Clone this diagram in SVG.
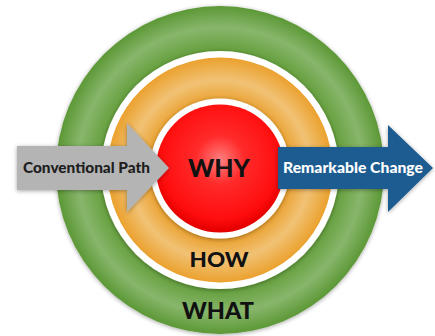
<svg xmlns="http://www.w3.org/2000/svg" width="435" height="336" viewBox="0 0 435 336">
  <defs>
    <radialGradient id="gGreen" gradientUnits="userSpaceOnUse" cx="220" cy="170" r="164">
      <stop offset="0.72" stop-color="#639e3b"/>
      <stop offset="0.87" stop-color="#88b66b"/>
      <stop offset="1" stop-color="#5c9836"/>
    </radialGradient>
    <radialGradient id="gOrange" gradientUnits="userSpaceOnUse" cx="220" cy="170" r="112.5">
      <stop offset="0.62" stop-color="#eba232"/>
      <stop offset="0.8" stop-color="#f1c275"/>
      <stop offset="1" stop-color="#eba12e"/>
    </radialGradient>
    <radialGradient id="gRed" gradientUnits="userSpaceOnUse" cx="220" cy="160" r="70">
      <stop offset="0" stop-color="#ff8080"/>
      <stop offset="0.35" stop-color="#ff2a2a"/>
      <stop offset="0.85" stop-color="#ff0d0d"/>
      <stop offset="1" stop-color="#e60000"/>
    </radialGradient>
    <filter id="shadow" x="-20%" y="-20%" width="140%" height="140%">
      <feDropShadow dx="0" dy="1" stdDeviation="2" flood-color="#000" flood-opacity="0.35"/>
    </filter>
  </defs>
  <style>
    .lbl { font-family: Lato, "Open Sans", "DejaVu Sans", sans-serif; font-weight: 900; }
    .ring { fill: #ffffff; filter: url(#shadow); }
  </style>
  <rect width="435" height="336" fill="#ffffff"/>
  <g id="what">
    <circle cx="220" cy="170" r="164" fill="url(#gGreen)" filter="url(#shadow)"/>
    <text class="lbl" x="218" y="319" font-size="23" text-anchor="middle" textLength="72" lengthAdjust="spacingAndGlyphs" fill="#111">WHAT</text>
  </g>
  <g id="how">
    <circle class="ring" cx="220" cy="170" r="119"/>
    <circle cx="220" cy="170" r="112.5" fill="url(#gOrange)"/>
    <text class="lbl" x="219" y="267" font-size="21.5" text-anchor="middle" textLength="59" lengthAdjust="spacingAndGlyphs" fill="#111">HOW</text>
  </g>
  <g id="why">
    <circle class="ring" cx="220" cy="168.5" r="70"/>
    <circle cx="220" cy="168.5" r="64" fill="url(#gRed)"/>
    <text class="lbl" x="219" y="177" font-size="24" text-anchor="middle" textLength="62" lengthAdjust="spacingAndGlyphs" fill="#111">WHY</text>
  </g>
  <g id="conventional-path">
    <polygon points="17,146 127,146 127,123 169,168 127,212 127,190 17,190" fill="#b4b4b4" filter="url(#shadow)"/>
    <text class="lbl" x="86.5" y="173" font-size="14.5" text-anchor="middle" textLength="127" lengthAdjust="spacingAndGlyphs" fill="#1e1e1e">Conventional Path</text>
  </g>
  <g id="remarkable-change">
    <polygon points="278,147 388,147 388,125 433,168 388,212 388,189 278,189" fill="#1d5b91" filter="url(#shadow)"/>
    <text class="lbl" x="353" y="173" font-size="14.5" text-anchor="middle" textLength="140" lengthAdjust="spacingAndGlyphs" fill="#ffffff">Remarkable Change</text>
  </g>
  <g id="connectors"/>
</svg>
